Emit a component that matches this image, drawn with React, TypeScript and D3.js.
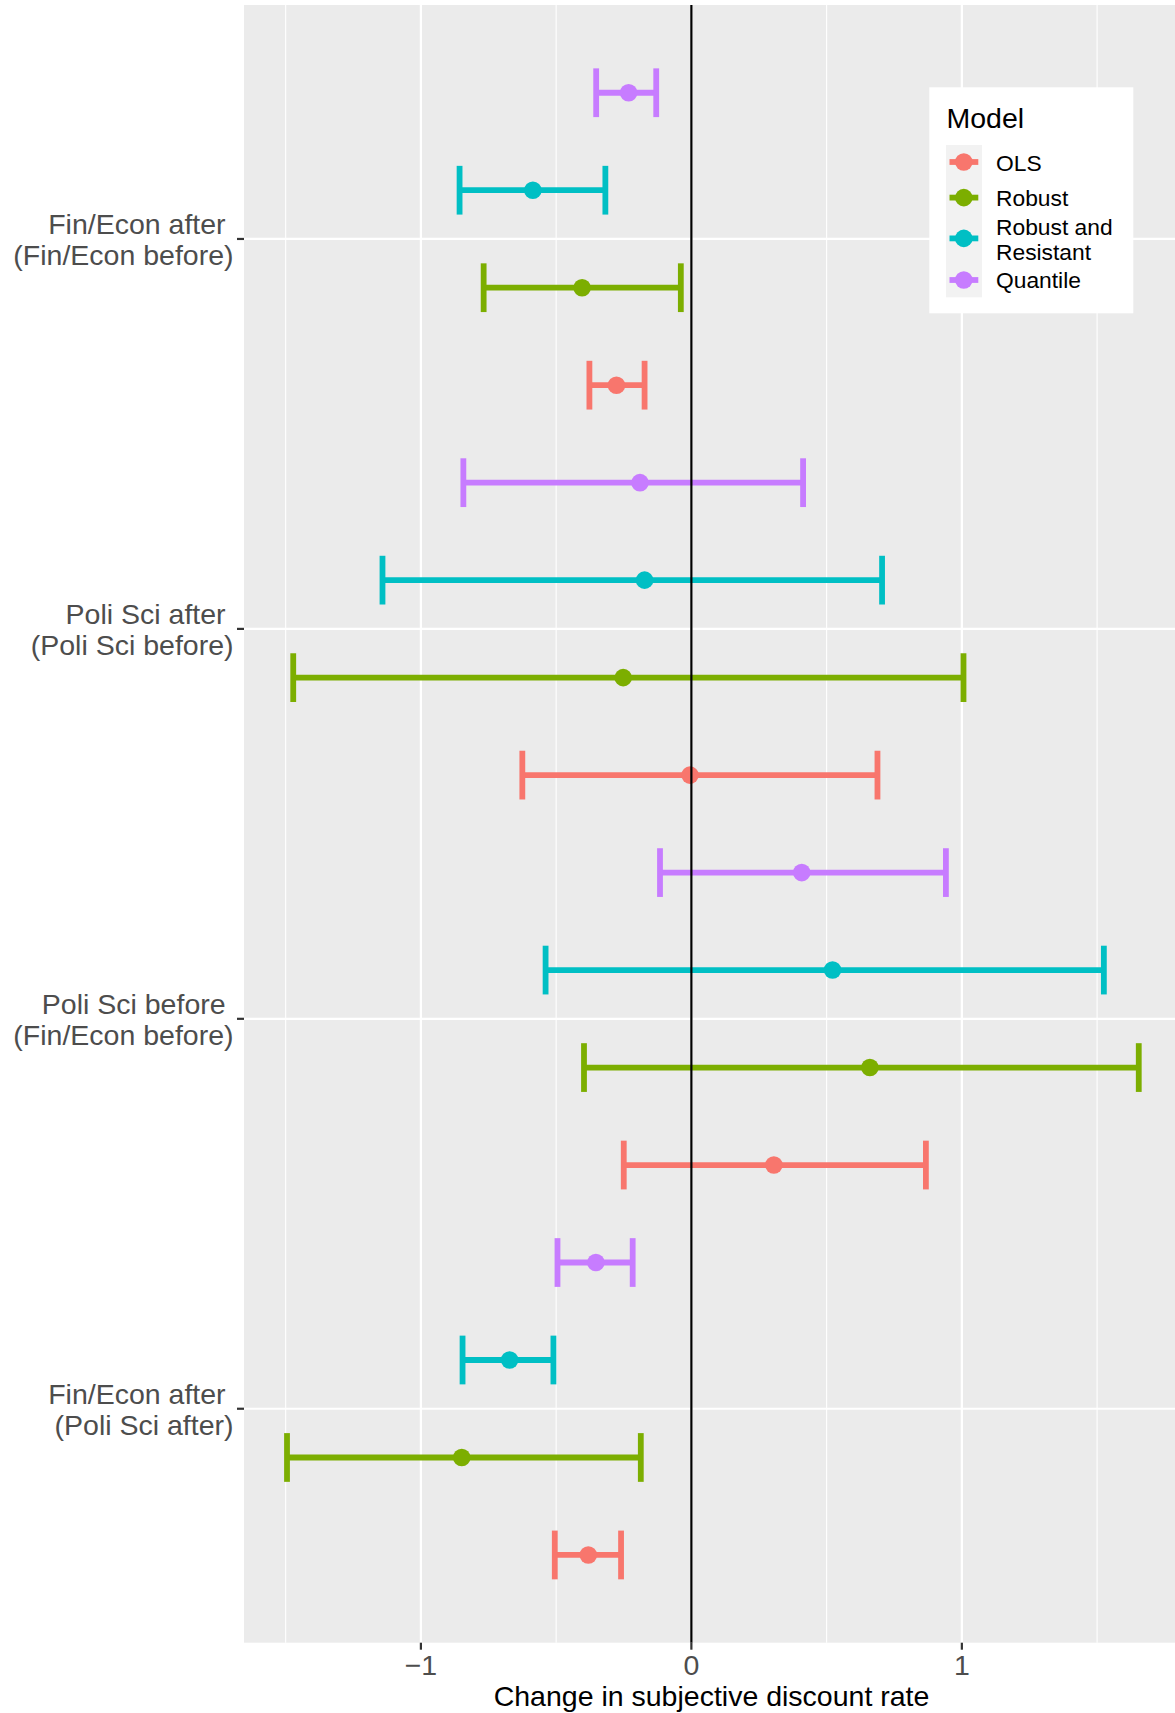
import React from "react";
import * as d3 from "d3";

const categories = [
  "Fin/Econ after \n(Fin/Econ before)",
  "Poli Sci after \n(Poli Sci before)",
  "Poli Sci before \n(Fin/Econ before)",
  "Fin/Econ after \n(Poli Sci after)",
];
const models = ["OLS", "Robust", "Robust and Resistant", "Quantile"];
const modelColors = ["#F8766D", "#7CAE00", "#00BFC4", "#C77CFF"];

const olsEst = [-0.277, -0.005, 0.305, -0.381];
const olsLow = [-0.377, -0.625, -0.25, -0.505];
const olsHigh = [-0.173, 0.688, 0.867, -0.26];

const robustEst = [-0.404, -0.252, 0.66, -0.849];
const robustLow = [-0.768, -1.472, -0.397, -1.495];
const robustHigh = [-0.039, 1.006, 1.654, -0.187];

const rrEst = [-0.586, -0.173, 0.522, -0.672];
const rrLow = [-0.857, -1.142, -0.539, -0.846];
const rrHigh = [-0.318, 0.705, 1.525, -0.51];

const quantEst = [-0.232, -0.19, 0.408, -0.353];
const quantLow = [-0.352, -0.843, -0.116, -0.495];
const quantHigh = [-0.13, 0.413, 0.941, -0.217];

const xMajorTicks = [-1, 0, 1];
const xMinorTicks = [-1.5, -0.5, 0.5, 1.5];
const xTickLabels = ["\u22121", "0", "1"];
const xTitle = "Change in subjective discount rate";
const legendTitle = "Model";
const legendLabels = [["OLS"], ["Robust"], ["Robust and", "Resistant"], ["Quantile"]];

const seriesEst = [olsEst, robustEst, rrEst, quantEst];
const seriesLow = [olsLow, robustLow, rrLow, quantLow];
const seriesHigh = [olsHigh, robustHigh, rrHigh, quantHigh];

const W = 1175;
const H = 1713;
const P = { left: 244, right: 1175, top: 5, bottom: 1642.7 };
const FONT = "'Liberation Sans', Arial, Helvetica, sans-serif";

export default function App() {
  const x = d3.scaleLinear().domain([-1.654, 1.788]).range([P.left, P.right]);
  const y = d3
    .scaleBand<string>()
    .domain(categories)
    .range([P.top, P.bottom])
    .paddingInner(0)
    .paddingOuter(0.1);
  const dodge = d3
    .scaleBand<string>()
    .domain([...models].reverse())
    .range([0, y.bandwidth()])
    .padding(0);
  const capHalf = dodge.bandwidth() * 0.25;
  const yc = (c: string) => (y(c) as number) + y.bandwidth() / 2;

  const rows: any[] = [];
  models.forEach((m, mi) => {
    categories.forEach((c, ci) => {
      rows.push({
        m,
        color: modelColors[mi],
        est: seriesEst[mi][ci],
        lo: seriesLow[mi][ci],
        hi: seriesHigh[mi][ci],
        yy: (y(c) as number) + (dodge(m) as number) + dodge.bandwidth() / 2,
      });
    });
  });

  const lw = 5.8;
  const legX = 929.3;
  const legY = 87.3;
  const keyYs = [162, 197.6, 238.4, 280];
  const labelYsByModel = [[170.5], [206.3], [234.8, 260.2], [288]];

  return (
    <svg
      width={W}
      height={H}
      style={{ position: "absolute", left: 0, top: 0, background: "#fff" }}
      fontFamily={FONT}
    >
      <rect x={P.left} y={P.top} width={P.right - P.left} height={P.bottom - P.top} fill="#EBEBEB" />
      {xMinorTicks.map((t) => (
        <line key={"mn" + t} x1={x(t)} x2={x(t)} y1={P.top} y2={P.bottom} stroke="#fff" strokeWidth={1.1} />
      ))}
      {xMajorTicks.map((t) => (
        <line key={"mj" + t} x1={x(t)} x2={x(t)} y1={P.top} y2={P.bottom} stroke="#fff" strokeWidth={2.2} />
      ))}
      {categories.map((c) => (
        <line key={"hg" + c} x1={P.left} x2={P.right} y1={yc(c)} y2={yc(c)} stroke="#fff" strokeWidth={2.2} />
      ))}

      {rows.map((r, i) => (
        <g key={"eb" + i} stroke={r.color} strokeWidth={lw}>
          <line x1={x(r.lo)} x2={x(r.hi)} y1={r.yy} y2={r.yy} />
          <line x1={x(r.lo)} x2={x(r.lo)} y1={r.yy - capHalf} y2={r.yy + capHalf} />
          <line x1={x(r.hi)} x2={x(r.hi)} y1={r.yy - capHalf} y2={r.yy + capHalf} />
        </g>
      ))}
      {rows.map((r, i) => (
        <circle key={"pt" + i} cx={x(r.est)} cy={r.yy} r={8.8} fill={r.color} />
      ))}

      <line x1={x(0)} x2={x(0)} y1={P.top} y2={P.bottom} stroke="#000" strokeWidth={2.2} />

      {/* y axis */}
      {categories.map((c) => {
        const lines = c.split("\n");
        const cy = yc(c);
        return (
          <g key={"yl" + c}>
            <line x1={P.left - 7} x2={P.left} y1={cy} y2={cy} stroke="#333" strokeWidth={2.2} />
            {lines.map((ln, li) => (
              <text
                key={li}
                x={P.left - 10.5}
                y={cy - 4.5 + li * 30.5}
                textAnchor="end"
                fontSize={28.5}
                fill="#4D4D4D"
                style={{ whiteSpace: "pre" }}
              >
                {ln}
              </text>
            ))}
          </g>
        );
      })}

      {/* x axis */}
      {xMajorTicks.map((t, i) => (
        <g key={"xt" + t}>
          <line x1={x(t)} x2={x(t)} y1={P.bottom} y2={P.bottom + 7} stroke="#333" strokeWidth={2.2} />
          <text x={x(t)} y={1674.5} textAnchor="middle" fontSize={28.5} fill="#4D4D4D">
            {xTickLabels[i]}
          </text>
        </g>
      ))}
      <text x={(P.left + P.right) / 2 + 2} y={1705.5} textAnchor="middle" fontSize={28.5} fill="#000">
        {xTitle}
      </text>

      {/* legend */}
      <rect x={legX} y={legY} width={204} height={226} fill="#fff" />
      <text x={946.5} y={127.5} fontSize={28.5} fill="#000">
        {legendTitle}
      </text>
      <rect x={946} y={145} width={36} height={152.3} fill="#F2F2F2" />
      {models.map((m, i) => (
        <g key={"lg" + m}>
          <line x1={949.5} x2={978.3} y1={keyYs[i]} y2={keyYs[i]} stroke={modelColors[i]} strokeWidth={lw} />
          <circle cx={963.8} cy={keyYs[i]} r={8.8} fill={modelColors[i]} />
          {legendLabels[i].map((ln, li) => (
            <text key={li} x={996} y={labelYsByModel[i][li]} fontSize={22.8} fill="#000">
              {ln}
            </text>
          ))}
        </g>
      ))}
    </svg>
  );
}
